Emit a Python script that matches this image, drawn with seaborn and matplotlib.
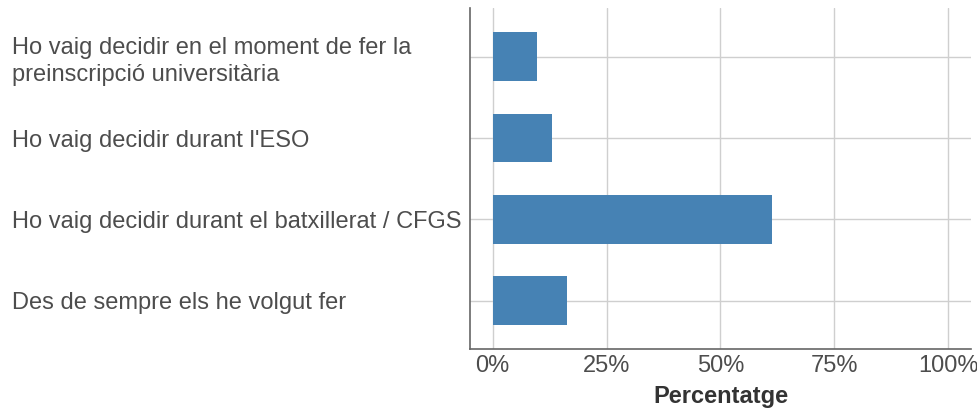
import numpy as np
import pandas as pd
import matplotlib.pyplot as plt
import seaborn as sns
from matplotlib.ticker import FuncFormatter

categories = [
    "Ho vaig decidir en el moment de fer la\npreinscripció universitària",
    "Ho vaig decidir durant l'ESO",
    "Ho vaig decidir durant el batxillerat / CFGS",
    "Des de sempre els he volgut fer",
]
percentages = [9.8, 13.0, 61.3, 16.2]

df = pd.DataFrame({"resposta": categories, "percentatge": percentages})

sns.set_style("whitegrid")
plt.rcParams['font.family'] = ['Liberation Sans', 'DejaVu Sans']

fig = plt.figure(figsize=(9.77, 4.12), dpi=100)
ax = fig.add_axes([0.481, 0.152, 0.9939 - 0.481, 0.9806 - 0.152])

sns.barplot(data=df, y="resposta", x="percentatge", color="#4682b4",
            width=0.6, saturation=1, linewidth=0, ax=ax, orient="h")

ax.set_xlim(-5, 105)
ax.set_ylim(3.6, -0.6)
ax.set_xticks([0, 25, 50, 75, 100])
ax.xaxis.set_major_formatter(FuncFormatter(lambda v, p: f"{v:.0f}%"))

ax.grid(True, axis="both", color="#cfcfcf", linewidth=1)
ax.set_axisbelow(True)
for s in ["top", "right"]:
    ax.spines[s].set_visible(False)
for s in ["left", "bottom"]:
    ax.spines[s].set_color("#666666")
    ax.spines[s].set_linewidth(1.2)

ax.tick_params(axis="x", length=0, pad=4, labelsize=17, labelcolor="#4d4d4d")
ax.tick_params(axis="y", length=0, pad=330, labelsize=17, labelcolor="#4d4d4d")
for lbl in ax.get_yticklabels():
    lbl.set_ha("left")
    lbl.set_linespacing(1.25)

ax.set_ylabel("")
ax.set_xlabel("Percentatge", fontsize=17, fontweight="bold", color="#333333", labelpad=6)

fig.savefig("out.png", dpi=100)
